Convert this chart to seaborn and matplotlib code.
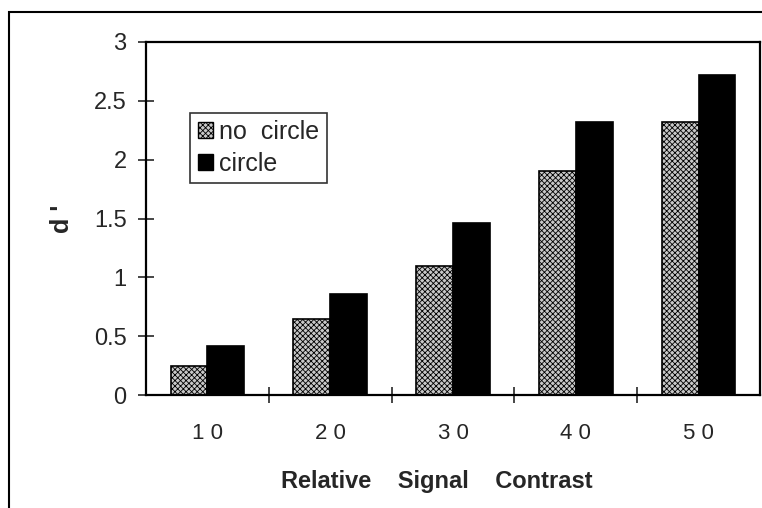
import numpy as np
import pandas as pd
import seaborn as sns
import matplotlib.pyplot as plt
from matplotlib.patches import Rectangle
from matplotlib.ticker import FuncFormatter

sns.set_theme(style="white")
plt.rcParams['font.family'] = ['Liberation Sans', 'DejaVu Sans']
plt.rcParams['hatch.linewidth'] = 0.6

# values
contrast = ["10", "20", "30", "40", "50"]
no_circle = [0.25, 0.65, 1.10, 1.90, 2.32]
circle = [0.42, 0.86, 1.46, 2.32, 2.72]
conditions = ["no circle", "circle"]

df = pd.DataFrame({
    "contrast": contrast * 2,
    "dprime": no_circle + circle,
    "condition": [conditions[0]] * len(contrast) + [conditions[1]] * len(contrast),
})

fig = plt.figure(figsize=(7.62, 5.08), dpi=100)
ax = fig.add_axes([146 / 762, 1 - 395 / 508, 614 / 762, 353 / 508])

sns.barplot(data=df, x="contrast", y="dprime", hue="condition",
            hue_order=conditions, order=contrast,
            palette={"no circle": "#c8c8c8", "circle": "black"},
            width=0.6, edgecolor="black", linewidth=1.2,
            saturation=1, legend=False, ax=ax)

# dotted-grey fill for the "no circle" bars
for bar in ax.containers[0]:
    bar.set_hatch("xxxxxx")

ax.set_ylim(0, 3)
ax.set_xlim(-0.5, len(contrast) - 0.5)
ax.set_yticks(np.arange(0, 3.01, 0.5))
ax.yaxis.set_major_formatter(FuncFormatter(lambda v, p: f"{v:g}"))
ax.tick_params(axis="y", direction="inout", length=12, width=1.2,
               labelsize=17, pad=8, left=True)
ax.set_xticks(range(len(contrast)))
ax.set_xticklabels([" ".join(c) for c in contrast])
ax.tick_params(axis="x", which="major", length=0, labelsize=16, pad=20)
ax.set_xticks(np.arange(0.5, len(contrast) - 0.5, 1), minor=True)
ax.tick_params(axis="x", which="minor", direction="inout", length=12,
               width=1.2, bottom=True)

for s in ax.spines.values():
    s.set_color("black")
    s.set_linewidth(1.6)

ax.set_xlabel("Relative    Signal    Contrast", fontsize=17, fontweight="bold",
              labelpad=19)
ax.xaxis.label.set_x((437 - 146) / 614)
ax.set_ylabel("d '", fontsize=18, fontweight="bold", labelpad=14)

legend_handles = [
    Rectangle((0, 0), 1, 1, facecolor="#c8c8c8", edgecolor="black", hatch="xxxxxx"),
    Rectangle((0, 0), 1, 1, facecolor="black", edgecolor="black"),
]
leg = ax.legend(legend_handles, ["no  circle", "circle"], loc="upper left",
                bbox_to_anchor=(0.072, 0.80), fontsize=18, frameon=True,
                fancybox=False, edgecolor="black", handlelength=0.6,
                handleheight=0.6, handletextpad=0.25, borderpad=0.3,
                labelspacing=0.3, borderaxespad=0)
leg.get_frame().set_linewidth(1.2)

# outer frame of the original figure
fig.add_artist(Rectangle((9 / 762, -0.1), 1.0, 1.1 - 12 / 508,
                         transform=fig.transFigure, fill=False,
                         edgecolor="black", linewidth=1.5))

fig.savefig("out.png", dpi=100)
